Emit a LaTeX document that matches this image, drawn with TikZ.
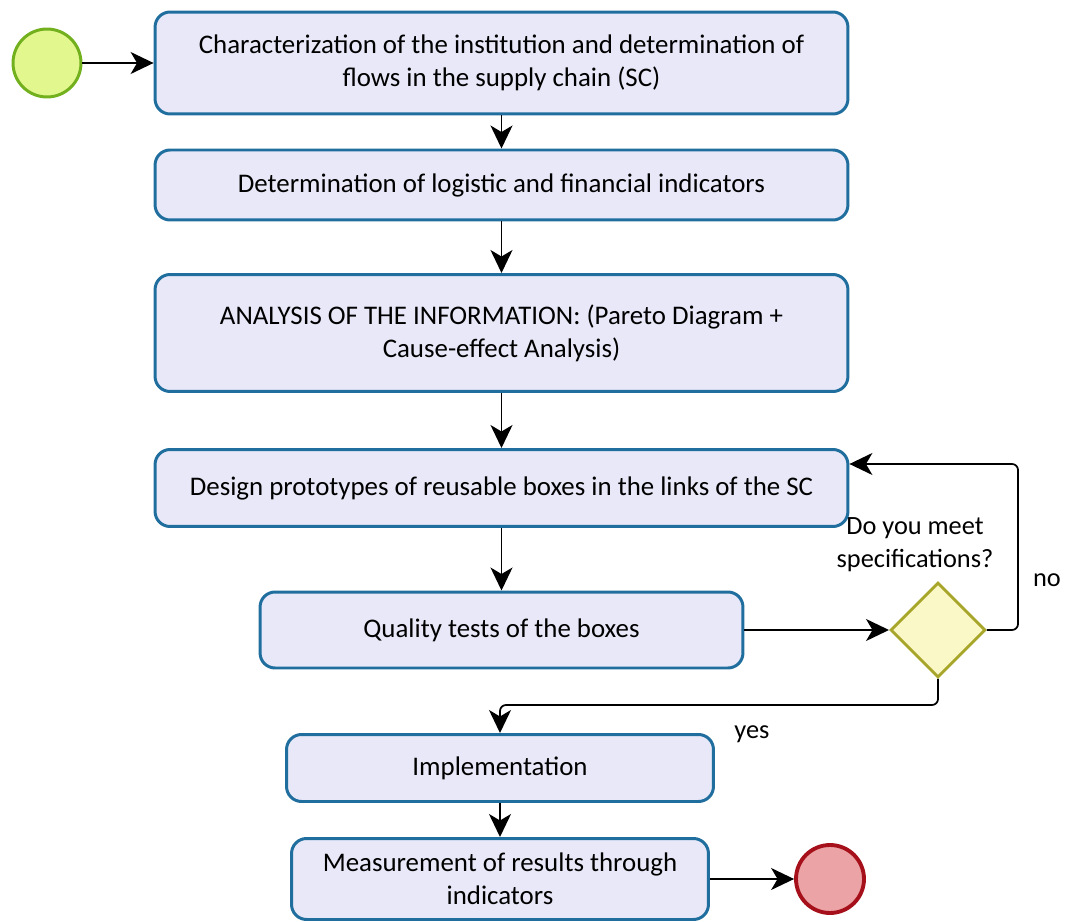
\documentclass[tikz,border=0pt]{standalone}
\usepackage{fontspec}
\setmainfont{Carlito}
\usetikzlibrary{shapes.geometric,arrows.meta}

\definecolor{boxfill}{HTML}{E8E8F8}
\definecolor{boxline}{HTML}{1F6E9E}
\definecolor{startfill}{HTML}{E2F78E}
\definecolor{startline}{HTML}{72B01E}
\definecolor{endfill}{HTML}{EBA3A6}
\definecolor{endline}{HTML}{A5101A}
\definecolor{gatefill}{HTML}{FBF8C8}
\definecolor{gateline}{HTML}{A8A62A}

\tikzset{
	task/.style={draw=boxline, fill=boxfill, line width=1.7pt, rounded corners=0.3cm,
		align=center, inner sep=0pt, font=\fontsize{15.3}{18.8}\selectfont},
	flow/.style={-{Stealth[length=0.46cm,width=0.44cm,inset=0.13cm]}, line width=1pt, black},
	lbl/.style={font=\fontsize{15}{18.8}\selectfont, align=center}
}

\begin{document}
\begin{tikzpicture}[x=0.02cm, y=-0.02cm]
			\useasboundingbox (0,0) rectangle (1066,922);
			
			%Start and end events
			\node[circle, draw=startline, fill=startfill, line width=1.7pt, minimum size=1.36cm, inner sep=0pt] (start) at (47,63) {};
			\node[circle, draw=endline, fill=endfill, line width=2.2pt, minimum size=1.36cm, inner sep=0pt] (stop) at (830,879) {};
			
			%Tasks
			\node[task, minimum width=13.86cm, minimum height=2.04cm] (charact) at (501.5,63) {Characterization of the institution and determination of\\flows in the supply chain (SC)};
			\node[task, minimum width=13.86cm, minimum height=1.4cm] (indic) at (501.5,185) {Determination of logistic and financial indicators};
			\node[task, minimum width=13.86cm, minimum height=2.34cm] (analysis) at (501.5,333) {ANALYSIS OF THE INFORMATION: (Pareto Diagram +\\Cause-effect Analysis)};
			\node[task, minimum width=13.86cm, minimum height=1.54cm] (design) at (501.5,488) {Design prototypes of reusable boxes in the links of the SC};
			\node[task, minimum width=9.66cm, minimum height=1.52cm] (quality) at (501.5,630) {Quality tests of the boxes};
			\node[task, minimum width=8.54cm, minimum height=1.34cm] (implem) at (500,768) {Implementation};
			\node[task, minimum width=8.34cm, minimum height=1.62cm] (measure) at (500,879) {Measurement of results through\\indicators};
			
			%Gateway
			\node[diamond, draw=gateline, fill=gatefill, line width=1.7pt, minimum size=1.9cm, inner sep=0pt] (gate) at (938,630) {};
			\node[lbl] (question) at (915,545) {Do you meet\\specifications?};
			\node[lbl] (nolbl) at (1047,580) {no};
			\node[lbl] (yeslbl) at (752,734) {yes};
			
			%Sequence flows
			\draw[flow] (start) -- (charact);
			\draw[flow] (charact.south) -- (indic.north);
			\draw[flow] (indic.south) -- (analysis.north);
			\draw[flow] (analysis.south) -- (design.north);
			\draw[flow] (design.south) -- (quality.north);
			\draw[flow] (quality) -- (gate);
			\coordinate (noturn) at (1018,464);
			\draw[flow, rounded corners=0.12cm] (gate.east) -| (noturn) -- (design.east |- noturn);
			\coordinate (yesturn) at (938,705);
			\draw[flow, rounded corners=0.12cm] (gate.south) -- (yesturn) -| (implem.north);
			\draw[flow] (implem.south) -- (measure.north);
			\draw[flow] (measure) -- (stop);
			
		\end{tikzpicture}
\end{document}
